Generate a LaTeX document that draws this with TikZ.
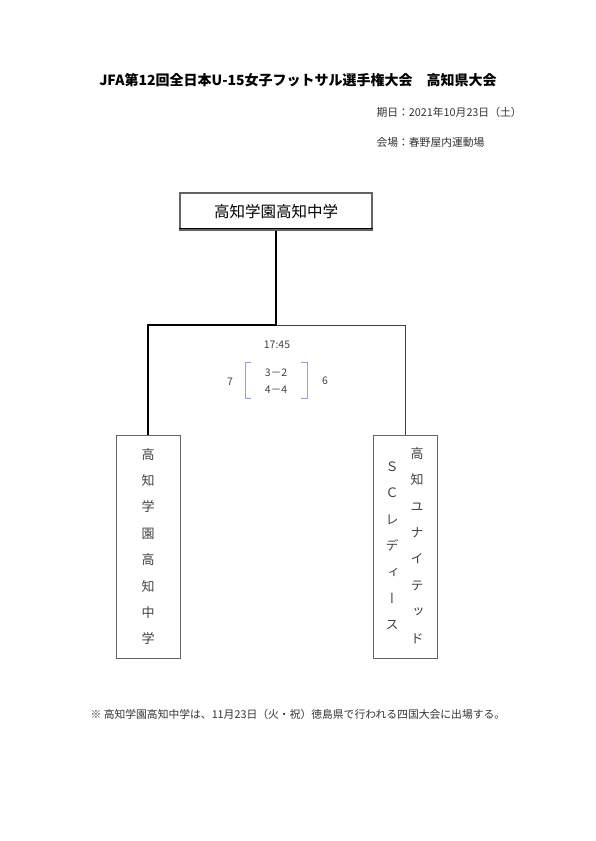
\documentclass[tikz,border=0pt]{standalone}
\usepackage{fontspec}
\setmainfont{Noto Sans CJK JP}
\newfontfamily\tatefont[RawFeature=+vert]{Noto Sans CJK JP}
\usetikzlibrary{positioning, calc}
\definecolor{boxgray}{RGB}{100,100,100}
\definecolor{bracketblue}{RGB}{140,165,200}

\begin{document}
\begin{tikzpicture}[x=1pt, y=-1pt,
  titletext/.style = {font=\fontsize{14}{16}\selectfont\bfseries},
  infotext/.style  = {anchor=west, font=\fontsize{10.8}{12}\selectfont, text=black!80},
  champbox/.style  = {draw=boxgray, line width=1.6pt, fill=white,
                      minimum width=192pt, minimum height=37pt,
                      font=\fontsize{15.5}{18}\selectfont},
  teambox/.style   = {draw=boxgray, line width=1pt, minimum width=64pt,
                      minimum height=223pt, inner sep=0pt},
  tate/.style      = {align=center, inner sep=0pt, text=black!75,
                      font=\tatefont\fontsize{13}{26.4}\selectfont},
  scoretext/.style = {font=\fontsize{10.5}{12}\selectfont, text=black!75},
  notetext/.style  = {anchor=west, font=\fontsize{10.8}{12}\selectfont, text=black!80},
  win/.style       = {line width=2.8pt},
  lose/.style      = {line width=1pt, draw=black!75},
  bracket/.style   = {line width=1pt, draw=bracketblue},
]

\useasboundingbox (0,0) rectangle (595,841);

%% ── HEADER ────────────────────────────────────────────────────────────────
\node[titletext] (title) at (298,80)
     {JFA第12回全日本U-15女子フットサル選手権大会　高知県大会};
\node[infotext] (date)  at (373,112) {期日：2021年10月23日（土）};
\node[infotext] (venue) at (373,142) {会場：春野屋内運動場};

%% ── WINNER ────────────────────────────────────────────────────────────────
\node[champbox] (champ) at (276,211.5) {高知学園高知中学};
\draw[line width=0.8pt] ([yshift=2.5pt]champ.south west) -- ([yshift=2.5pt]champ.south east);

%% ── TEAMS ─────────────────────────────────────────────────────────────────
\node[teambox] (left)  at (148,546.5) {};
\node[tate] (leftname) at (left) {高\\知\\学\\園\\高\\知\\中\\学};

\node[teambox] (right) at (405.5,546.5) {};
\node[tate] (rightname) at (417,545.5) {高\\知\\ユ\\ナ\\イ\\テ\\ッ\\ド};
\node[tate] (rightsub)  at (392,546)   {Ｓ\\Ｃ\\レ\\デ\\ィ\\ー\\ス};

%% ── BRACKET ───────────────────────────────────────────────────────────────
\coordinate (joint) at (276,325);
\draw[lose] (joint) -| (right.north);
\draw[win] (champ.south) -- (joint) -| (left.north);

%% ── SCORE ─────────────────────────────────────────────────────────────────
\node[scoretext] (time)    at (277,345) {17:45};
\node[scoretext] (half1)   at (276,373) {3－2};
\node[scoretext] (half2)   at (276,390) {4－4};
\node[scoretext] (pkleft)  at (230,382) {7};
\node[scoretext] (pkright) at (325,381) {6};
\draw[bracket] (251,362) -- (245,362) -- (245,398) -- (251,398);
\draw[bracket] (301,362) -- (307,362) -- (307,398) -- (301,398);

%% ── NOTE ──────────────────────────────────────────────────────────────────
\node[notetext] (note) at (87,714)
     {※ 高知学園高知中学は、11月23日（火・祝）徳島県で行われる四国大会に出場する。};

\end{tikzpicture}
\end{document}
